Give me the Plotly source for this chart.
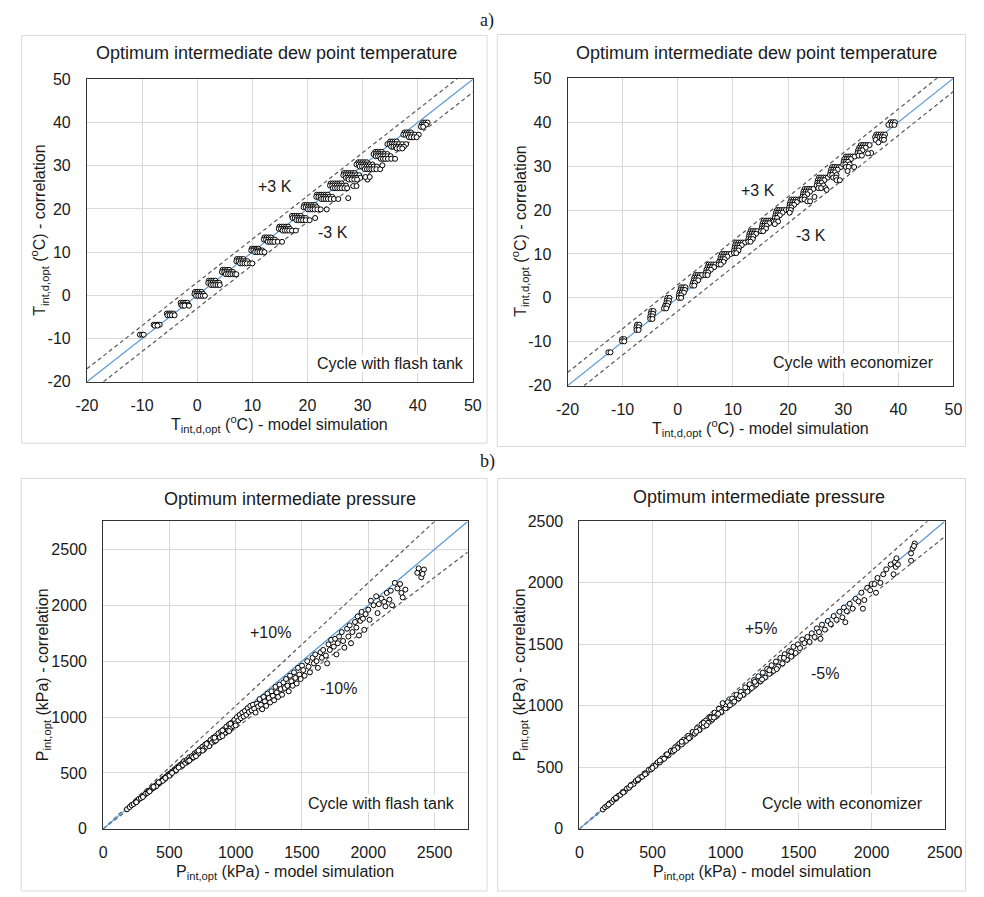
import plotly.graph_objects as go

W, H = 984, 897

# ---------------- DATA ----------------
# Panel a-left: cycle with flash tank, dew point temperature (rows: correlation value, model values)
tf_corr_rows = [-9.1, -6.8, -7.0, -4.2, -4.6, -1.7, -2.2, -2.4, 0.8, 0.3, -0.1,
                3.4, 2.9, 2.4, 5.9, 5.4, 4.9, 8.4, 7.9, 7.4, 10.8, 10.4, 10.0,
                13.4, 12.9, 12.4, 15.9, 15.4, 15.0, 18.4, 17.9, 17.4,
                20.9, 20.4, 19.9, 23.3, 22.8, 22.3, 22.5,
                25.9, 25.4, 24.8, 25.3, 28.3, 27.8, 27.2, 26.8, 27.4,
                30.8, 30.3, 29.8, 29.2, 30.1, 33.2, 32.7, 32.2, 31.6,
                35.6, 35.0, 34.4, 34.0, 37.7, 37.2, 36.6, 40.0, 39.5, 39.0]
tf_model_rows = [
    [-10.4, -10.0, -9.7], [-7.9, -7.5, -7.1, -6.8], [-7.7, -7.2],
    [-5.5, -5.1, -4.7, -4.3], [-5.4, -5.0, -4.6, -4.1],
    [-3.0, -2.6, -2.2, -1.8], [-2.9, -2.5, -2.1, -1.6], [-2.7, -2.3, -1.5],
    [-0.4, 0.0, 0.4, 0.8], [-0.5, -0.1, 0.3, 0.7, 1.1], [-0.2, 0.2, 0.6, 1.0, 1.4],
    [2.1, 2.5, 2.9, 3.3], [2.0, 2.4, 2.8, 3.2, 3.6, 4.0], [2.5, 2.9, 3.3, 3.7, 4.1],
    [4.6, 5.0, 5.4, 5.8], [4.5, 4.9, 5.3, 5.7, 6.1, 6.5], [5.2, 5.6, 6.0, 6.4, 6.8, 7.1],
    [7.2, 7.6, 8.0, 8.4], [7.1, 7.5, 7.9, 8.3, 8.7, 9.1], [7.8, 8.2, 8.6, 9.0, 9.6, 10.0],
    [9.9, 10.3, 10.7, 11.1], [9.8, 10.2, 10.6, 11.0, 11.4, 11.8], [10.5, 10.9, 11.3, 11.7, 12.2],
    [12.2, 12.6, 13.0, 13.4], [12.1, 12.5, 12.9, 13.3, 13.7, 14.1], [12.8, 13.2, 13.6, 14.0, 14.6, 15.4],
    [14.9, 15.3, 15.7, 16.1, 16.5], [14.8, 15.2, 15.6, 16.0, 16.4, 16.8], [15.5, 15.9, 16.3, 16.7, 17.2, 17.9],
    [17.2, 17.6, 18.0, 18.4, 18.8], [17.3, 17.7, 18.1, 18.5, 18.9, 19.3, 19.7, 21.4],
    [18.0, 18.4, 18.8, 19.2, 19.7, 20.4],
    [19.4, 19.8, 20.2, 20.6, 21.0, 21.4], [19.3, 19.7, 20.1, 20.5, 20.9, 21.3, 21.7],
    [20.1, 20.5, 20.9, 21.3, 21.8, 22.4, 23.5],
    [21.7, 22.1, 22.5, 22.9, 23.3, 23.7], [21.6, 22.0, 22.4, 22.8, 23.2, 23.6, 24.0, 24.5],
    [22.5, 22.9, 23.3, 23.7, 24.2, 24.8, 25.6], [27.4],
    [24.2, 24.6, 25.0, 25.4, 25.8, 26.2], [24.1, 24.5, 24.9, 25.3, 25.7, 26.1, 26.5, 27.0],
    [24.6, 25.0, 25.4, 25.8, 26.2, 26.7, 27.2], [28.3, 28.9],
    [26.6, 27.0, 27.4, 27.8, 28.2, 28.6], [26.5, 26.9, 27.3, 27.7, 28.1, 28.5, 28.9, 29.4],
    [27.0, 27.4, 27.8, 28.2, 28.6, 29.0, 29.6], [27.5, 28.0, 28.5, 29.0, 30.9], [30.5, 31.3],
    [29.2, 29.6, 30.0, 30.4, 30.8], [28.9, 29.3, 29.7, 30.1, 30.5, 30.9, 31.3, 31.8],
    [29.5, 29.9, 30.3, 30.7, 31.1, 31.5, 32.0, 32.6], [30.4, 30.8, 31.2, 31.6, 32.0, 32.5, 33.2], [33.6],
    [32.3, 32.7, 33.1, 33.5], [32.0, 32.4, 32.8, 33.2, 33.6, 34.0, 34.5],
    [32.4, 32.8, 33.2, 33.6, 34.0, 34.5, 35.1], [33.3, 33.7, 34.1, 34.6, 35.2, 35.9],
    [35.0, 35.4, 35.8, 36.2], [34.5, 34.9, 35.3, 35.7, 36.1, 36.6, 37.2, 37.9],
    [35.2, 35.6, 36.0, 36.4, 36.9, 37.5], [36.2, 36.7, 37.2],
    [37.6, 38.0, 38.4, 38.8], [37.4, 37.8, 38.2, 38.6, 39.0, 39.5, 40.2], [38.4, 38.8, 39.3, 39.8],
    [41.0, 41.4, 41.8], [40.7, 41.1, 41.5], [40.6, 41.0],
]

# Panel a-right: cycle with economizer, dew point temperature
te_corr_rows = [-12.4, -9.4, -9.9, -6.1, -6.7, -7.3, -3.0, -3.6, -4.2, -4.8,
                0.0, -0.6, -1.2, -1.8, -2.4, 2.4, 1.8, 1.2, 0.6, 0.0,
                5.2, 4.6, 4.0, 3.4, 2.8, 7.6, 7.0, 6.4, 5.8, 5.2,
                10.0, 9.4, 8.8, 8.2, 7.6, 12.6, 12.0, 11.4, 10.8, 10.2,
                15.2, 14.6, 14.0, 13.4, 12.8, 17.6, 17.0, 16.4, 15.8, 15.2,
                20.0, 19.4, 18.8, 18.2, 17.4, 16.8,
                22.4, 21.8, 21.2, 20.6, 20.0, 19.4,
                24.8, 24.2, 23.6, 23.0, 22.4, 22.0,
                27.4, 26.8, 26.2, 25.6, 25.0, 24.6,
                29.8, 29.2, 28.6, 28.0, 27.4, 26.8,
                32.2, 31.6, 31.0, 30.4, 29.8, 28.9,
                34.8, 34.2, 33.6, 33.0, 32.4, 32.9,
                37.2, 36.6, 36.0, 35.4, 40.0, 39.4]
te_model_rows = [
    [-12.6, -12.2], [-10.1, -9.7], [-10.1, -9.7],
    [-7.4, -7.0], [-7.5, -7.1], [-7.5, -7.1],
    [-4.8, -4.4], [-4.9, -4.5], [-5.0, -4.6], [-5.0, -4.6],
    [-1.9, -1.5], [-2.0, -1.6], [-2.1, -1.7], [-2.3, -1.9], [-2.5, -2.1],
    [0.6, 1.0, 1.4], [0.5, 0.9, 1.3], [0.3, 0.7, 1.1], [0.2, 0.6], [0.2, 0.6],
    [3.2, 3.6, 4.0, 4.4], [3.0, 3.4, 3.8], [2.9, 3.3, 3.7], [2.7, 3.1], [2.6, 3.0],
    [5.6, 6.0, 6.4, 6.8], [5.4, 5.8, 6.2, 6.6], [5.2, 5.6, 6.0], [5.1, 5.5], [5.0, 5.4],
    [8.0, 8.4, 8.8, 9.2, 9.6], [7.8, 8.2, 8.6, 9.0], [7.7, 8.1, 8.5], [7.5, 7.9, 8.3], [7.4, 7.8],
    [10.6, 11.0, 11.4, 11.8, 12.2], [10.4, 10.8, 11.2, 11.6], [10.3, 10.7, 11.1], [10.2, 10.6, 11.0], [10.2, 10.6],
    [13.2, 13.6, 14.0, 14.4], [13.0, 13.4, 13.8, 14.2], [12.9, 13.3, 13.7], [12.8, 13.2, 13.6], [12.8, 13.2],
    [15.6, 16.0, 16.4, 16.8, 17.2], [15.4, 15.8, 16.2, 16.6], [15.3, 15.7, 16.1], [15.2, 15.6, 16.0], [15.1, 15.5],
    [18.0, 18.4, 18.8, 19.2, 19.6], [17.8, 18.2, 18.6, 19.0], [17.7, 18.1, 18.5], [17.6, 18.0], [17.4, 17.8, 18.2], [17.6],
    [20.6, 21.0, 21.4, 21.8, 22.2], [20.4, 20.8, 21.2, 21.6], [20.3, 20.7, 21.1], [20.2, 20.6], [20.1, 20.5], [20.3],
    [23.0, 23.4, 23.8, 24.2, 24.6], [22.8, 23.2, 23.6, 24.0], [22.7, 23.1, 23.5], [22.6, 23.0, 24.8], [22.5, 23.0], [23.5, 24.0],
    [25.6, 26.0, 26.4, 26.8, 27.2], [25.4, 25.8, 26.2, 26.6], [25.3, 25.7, 26.1], [25.2, 25.6, 26.4], [25.5, 26.0, 26.8], [27.0],
    [28.0, 28.4, 28.8, 29.2, 29.6], [27.8, 28.2, 28.6, 29.0], [27.7, 28.1, 28.5], [27.6, 28.0, 28.8], [28.2, 28.7], [28.8, 29.4],
    [30.5, 30.9, 31.3, 31.7, 32.1], [30.2, 30.6, 31.0, 31.4], [30.1, 30.5, 30.9], [30.0, 30.4, 31.2], [30.5, 31.0, 32.0], [30.8],
    [33.2, 33.6, 34.0, 34.4, 34.8], [32.9, 33.3, 33.7, 34.1], [32.7, 33.1, 33.5], [32.6, 33.0, 35.1], [32.8, 33.4], [34.5],
    [36.0, 36.4, 36.8, 37.2, 37.6], [35.8, 36.2, 36.6, 37.0, 37.4], [35.9, 37.0, 37.4], [36.4],
    [38.6, 39.0, 39.4], [38.2, 38.8, 39.3],
]

# Panel b-left: cycle with flash tank, intermediate pressure (kPa)
pf_model = [180, 200, 215, 230, 245, 260, 270, 285, 300, 310, 320, 335, 345, 360, 370, 380, 390, 400,
            410, 420, 430, 440, 450, 460, 470, 480, 490, 500, 510, 520, 530, 540, 550, 560, 570, 580,
            590, 600, 250, 300, 350, 400, 450, 500, 550, 600, 380, 420, 470, 520, 570,
            610, 620, 630, 640, 650, 660, 670, 680, 690, 700, 710, 720, 730, 740, 750, 760, 770, 780,
            790, 800, 810, 820, 830, 840, 850, 860, 870, 880, 890, 900, 910, 920, 930, 940, 950, 960,
            970, 980, 990, 1000, 650, 700, 750, 800, 850, 900, 950, 1000, 720, 780, 840, 900, 960,
            1010, 1020, 1030, 1040, 1050, 1060, 1070, 1080, 1090, 1100, 1110, 1120, 1130, 1140, 1150,
            1160, 1170, 1180, 1190, 1200, 1210, 1220, 1230, 1240, 1250, 1260, 1270, 1280, 1290, 1300,
            1310, 1320, 1330, 1340, 1350, 1360, 1370, 1380, 1390, 1400, 1410, 1420, 1430, 1440, 1450,
            1460, 1470, 1480, 1490, 1500,
            1510, 1520, 1540, 1550, 1560, 1580, 1590, 1600, 1610, 1620, 1640, 1650, 1660, 1680, 1690,
            1700, 1710, 1720, 1740, 1750, 1760, 1770, 1780, 1800, 1810, 1820, 1840, 1850, 1860, 1870,
            1880, 1900, 1910, 1920, 1930, 1940, 1950, 1960, 1970, 1980, 2000,
            2010, 2020, 2040, 2060, 2070, 2080, 2100, 2120, 2130, 2140, 2160, 2170, 2180, 2200, 2220,
            2240, 2250, 2260, 2280, 2370, 2380, 2400, 2420, 2410]
pf_corr = [175, 195, 212, 222, 240, 252, 268, 275, 292, 300, 315, 322, 340, 350, 365, 368, 382, 388,
           405, 408, 420, 428, 445, 448, 462, 468, 485, 490, 498, 512, 515, 532, 535, 552, 555, 572,
           575, 590, 238, 285, 335, 380, 430, 475, 525, 570, 375, 415, 455, 500, 548,
           605, 590, 615, 605, 640, 625, 650, 640, 675, 665, 690, 680, 715, 700, 735, 715, 755, 735,
           770, 750, 795, 770, 815, 785, 830, 805, 855, 820, 870, 845, 890, 860, 915, 880, 935, 900,
           950, 920, 975, 945, 610, 650, 700, 740, 790, 830, 875, 925, 700, 760, 815, 880, 940,
           1000, 970, 1020, 990, 1040, 1005, 1055, 1020, 1080, 1045, 1100, 1060, 1110, 1075, 1040,
           1120, 1095, 1160, 1110, 1070, 1180, 1140, 1100, 1210, 1170, 1130, 1230, 1190, 1150, 1270,
           1220, 1180, 1290, 1250, 1200, 1310, 1260, 1340, 1280, 1230, 1370, 1320, 1280, 1400, 1350,
           1300, 1440, 1380, 1340, 1460,
           1420, 1370, 1500, 1450, 1400, 1530, 1480, 1560, 1500, 1440, 1580, 1530, 1600, 1550, 1480,
           1650, 1600, 1690, 1630, 1700, 1560, 1660, 1720, 1760, 1680, 1620, 1790, 1720, 1820, 1660,
           1760, 1850, 1800, 1900, 1730, 1860, 1940, 1880, 1780, 1920, 1960,
           1870, 2040, 2000, 2080, 1930, 2010, 2060, 2030, 1990, 2110, 2050, 2130, 2000, 2200, 2150,
           2190, 2110, 2070, 2140, 2290, 2330, 2250, 2320, 2280]

# Panel b-right: cycle with economizer, intermediate pressure (kPa)
pe_model = [160, 175, 190, 205, 220, 235, 250, 265, 280, 295, 310, 325, 340, 355, 370, 385, 400, 415,
            430, 445, 460, 475, 490, 505, 520, 535, 550, 565, 580, 595, 610, 625, 640, 655, 670, 685,
            700, 715, 730, 745, 760, 775, 790, 805, 820, 835, 850, 865, 880, 895, 910, 925, 940, 955,
            970, 985, 1000,
            200, 300, 400, 500, 600, 700, 800, 900, 1000, 650, 750, 850, 950, 550, 450, 350, 250, 870,
            920, 980,
            1015, 1030, 1045, 1060, 1075, 1090, 1105, 1120, 1135, 1150, 1165, 1180, 1195, 1210, 1225,
            1240, 1255, 1270, 1285, 1300, 1315, 1330, 1345, 1360, 1375, 1390, 1405, 1420, 1435, 1450,
            1465, 1480, 1495, 1100, 1200, 1300, 1400, 1250, 1350, 1450,
            1510, 1525, 1540, 1560, 1575, 1590, 1610, 1625, 1640, 1650, 1660, 1680, 1700, 1720, 1740,
            1760, 1780, 1800, 1810, 1820, 1830, 1850, 1870, 1890, 1910, 1930, 1940, 1950, 1970, 1990,
            2000,
            2020, 2030, 2040, 2060, 2080, 2100, 2130, 2150, 2160, 2165, 2170, 2180, 2270, 2270, 2280,
            2295, 2290]
pe_corr = [158, 176, 187, 207, 216, 238, 246, 268, 276, 298, 305, 328, 334, 358, 364, 389, 394, 419,
           424, 450, 452, 480, 483, 511, 512, 541, 540, 572, 570, 603, 598, 633, 628, 663, 657, 694,
           686, 725, 716, 756, 745, 787, 775, 818, 803, 850, 832, 880, 862, 912, 890, 944, 920, 976,
           950, 1005, 980,
           198, 296, 402, 495, 606, 708, 790, 905, 1012, 640, 738, 862, 935, 556, 444, 352, 252, 842,
           905, 1022,
           1030, 1005, 1060, 1035, 1090, 1060, 1115, 1090, 1150, 1115, 1175, 1145, 1210, 1175, 1240,
           1200, 1270, 1230, 1300, 1260, 1330, 1285, 1360, 1320, 1390, 1345, 1420, 1375, 1445, 1400,
           1480, 1430, 1500, 1080, 1195, 1290, 1390, 1215, 1300, 1440,
           1470, 1540, 1510, 1560, 1520, 1590, 1560, 1630, 1600, 1545, 1660, 1620, 1690, 1665, 1730,
           1700, 1765, 1720, 1800, 1680, 1770, 1830, 1790, 1870, 1850, 1920, 1790, 1860, 1960, 1940,
           1990,
           1990, 1920, 2040, 2000, 2070, 2110, 2150, 2070, 2170, 2130, 2200, 2150, 2180, 2240, 2280,
           2320, 2300]

# axis ranges, ticks / reference bands
t_range = [-20, 50]
t_ticks = [-20, -10, 0, 10, 20, 30, 40, 50]
t_ticktext = ["-20", "-10", "0", "10", "20", "30", "40", "50"]
p_flash_range = [0, 2750]
p_econ_range = [0, 2500]
p_ticks = [0, 500, 1000, 1500, 2000, 2500]
p_ticktext = ["0", "500", "1000", "1500", "2000", "2500"]
t_band = 3            # +/- 3 K
pf_band = 0.10        # +/- 10 %
pe_band = 0.05        # +/- 5 %

# ---------------- STYLE / GEOMETRY ----------------
FONT = "Liberation Sans, Arial, sans-serif"
TXT = "#1a1a1a"
GRID = "#D9D9D9"
BLUE = "#5B9BD5"
DASH = "#595959"

# plot areas in pixels: x0, x1, ytop, ybottom
panels = {
    1: (77.3, 475.3, 72.7, 381.0),
    2: (573.0, 971.0, 71.7, 385.0),
    3: (94.0, 470.0, 523.3, 836.7),
    4: (585.3, 962.0, 523.3, 836.7),
}


def px(x):
    return x / W


def py(y):
    return 1 - y / H


def flatten(corr_rows, model_rows):
    xs, ys = [], []
    for c, row in zip(corr_rows, model_rows):
        for m in row:
            xs.append(m)
            ys.append(c)
    return xs, ys


fig = go.Figure()

marker = dict(symbol="circle", size=5, color="white", line=dict(color="black", width=1))

tfx, tfy = flatten(tf_corr_rows, tf_model_rows)
tex, tey = flatten(te_corr_rows, te_model_rows)

datasets = {
    1: (tfx, tfy, t_range, ("abs", t_band), t_ticks, t_ticktext),
    2: (tex, tey, t_range, ("abs", t_band), t_ticks, t_ticktext),
    3: (pf_model, pf_corr, p_flash_range, ("rel", pf_band), p_ticks, p_ticktext),
    4: (pe_model, pe_corr, p_econ_range, ("rel", pe_band), p_ticks, p_ticktext),
}

for k, (xs, ys, rng, (kind, b), _, _) in datasets.items():
    xa = "x" if k == 1 else f"x{k}"
    ya = "y" if k == 1 else f"y{k}"
    lo, hi = rng
    if kind == "abs":
        up = ([lo, hi], [lo + b, hi + b])
        dn = ([lo, hi], [lo - b, hi - b])
    else:
        up = ([lo, hi], [lo * (1 + b), hi * (1 + b)])
        dn = ([lo, hi], [lo * (1 - b), hi * (1 - b)])
    for lx, ly in (up, dn):
        fig.add_trace(go.Scatter(x=lx, y=ly, mode="lines", xaxis=xa, yaxis=ya,
                                 line=dict(color=DASH, width=1.2, dash="4px,3px"),
                                 hoverinfo="skip", showlegend=False))
    fig.add_trace(go.Scatter(x=[lo, hi], y=[lo, hi], mode="lines", xaxis=xa, yaxis=ya,
                             line=dict(color=BLUE, width=1.2), hoverinfo="skip", showlegend=False))
    fig.add_trace(go.Scatter(x=xs, y=ys, mode="markers", xaxis=xa, yaxis=ya,
                             marker=marker, hoverinfo="skip", showlegend=False))

layout_axes = {}
for k, (x0, x1, yt, yb) in panels.items():
    xs, ys, rng, _, tv, tt = datasets[k]
    common = dict(range=rng, tickmode="array", tickvals=tv, ticktext=tt,
                  showgrid=True, gridcolor=GRID, gridwidth=1,
                  zeroline=False, showline=True, linecolor="#333333", linewidth=1, mirror=True,
                  ticks="", tickfont=dict(family=FONT, size=16, color=TXT), fixedrange=True)
    xkey = "xaxis" if k == 1 else f"xaxis{k}"
    ykey = "yaxis" if k == 1 else f"yaxis{k}"
    layout_axes[xkey] = dict(common, domain=[px(x0), px(x1)],
                             anchor="y" if k == 1 else f"y{k}", ticklabelstandoff=9)
    layout_axes[ykey] = dict(common, domain=[py(yb), py(yt)],
                             anchor="x" if k == 1 else f"x{k}", ticklabelstandoff=12)

fig.update_layout(width=W, height=H, margin=dict(l=0, r=0, t=0, b=0),
                  paper_bgcolor="white", plot_bgcolor="white", **layout_axes)

# chart-area frames
for (a, b, c, d) in [(10, 28, 490, 443.5), (500.5, 27, 983.5, 447), (9.5, 479.5, 490, 900), (501, 479.5, 983.5, 900)]:
    fig.add_shape(type="rect", xref="paper", yref="paper", x0=px(a), x1=px(c), y0=py(d), y1=py(b),
                  line=dict(color=GRID, width=1), layer="below")

ann = []


def add_text(x, y, text, size=16, xanchor="center", angle=0, family=FONT, bg=None):
    d = dict(x=px(x), y=py(y), xref="paper", yref="paper", text=text, showarrow=False,
             xanchor=xanchor, yanchor="middle", textangle=angle, borderpad=0,
             font=dict(family=family, size=size, color=TXT))
    if bg:
        d["bgcolor"] = bg
    ann.append(d)


SERIF = "Liberation Serif, Times New Roman, serif"
add_text(490, 13, "a)", size=18, family=SERIF)
add_text(490, 462, "b)", size=18, family=SERIF)

t_title = "Optimum intermediate dew point temperature"
p_title = "Optimum intermediate pressure"
tx_lab = "T<sub>int,d,opt</sub> (<sup>o</sup>C) - model simulation"
ty_lab = "T<sub>int,d,opt</sub> (<sup>o</sup>C) - correlation"
px_lab = "P<sub>int,opt</sub> (kPa) - model simulation"
py_lab = "P<sub>int,opt</sub> (kPa) - correlation"

# panel 1
add_text(273, 46, t_title, size=18)
add_text(276, 424, tx_lab)
add_text(28, 227, ty_lab, angle=-90)
add_text(271, 182, "+3 K")
add_text(331, 229, "-3 K")
add_text(467, 362, "Cycle with flash tank", xanchor="right", bg="white")
# panel 2
add_text(768, 46, t_title, size=18)
add_text(772, 428, tx_lab)
add_text(524, 228, ty_lab, angle=-90)
add_text(769, 186, "+3 K")
add_text(824, 232, "-3 K")
add_text(952, 361, "Cycle with economizer", xanchor="right", bg="white")
# panel 3
add_text(287, 500, p_title, size=18)
add_text(282, 881, px_lab)
add_text(32, 680, py_lab, angle=-90)
add_text(267, 637, "+10%")
add_text(337, 694, "-10%")
add_text(458, 811, "Cycle with flash tank", xanchor="right", bg="white")
# panel 4
add_text(770, 498, p_title, size=18)
add_text(774, 881, px_lab)
add_text(524, 680, py_lab, angle=-90)
add_text(773, 632, "+5%")
add_text(839, 678, "-5%")
add_text(941, 811, "Cycle with economizer", xanchor="right", bg="white")

fig.update_layout(annotations=ann)
fig.write_html("out.html")
